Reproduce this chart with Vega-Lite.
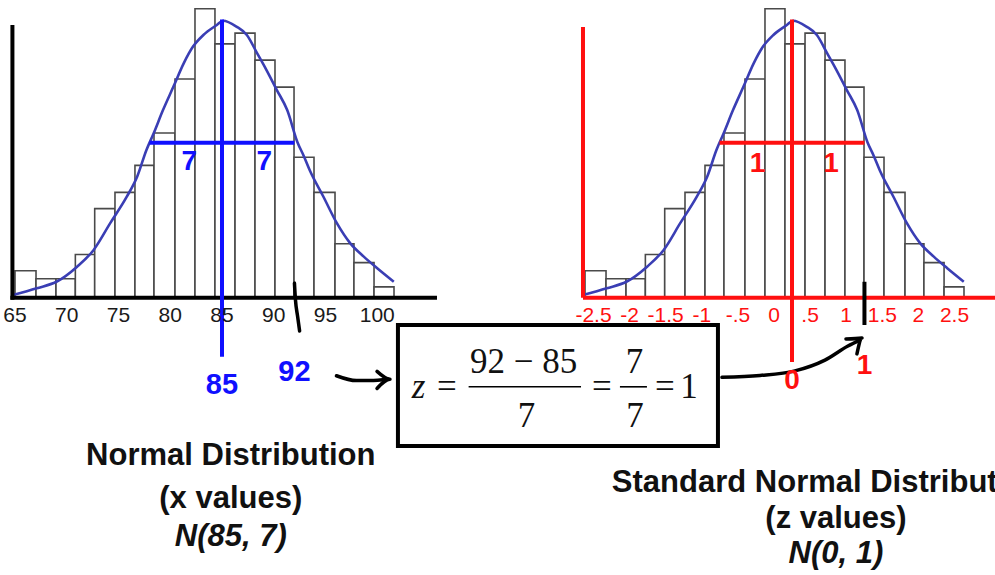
{
  "$schema": "https://vega.github.io/schema/vega-lite/v6.json",
  "width": 995,
  "height": 575,
  "autosize": {"type": "none"},
  "padding": 0,
  "background": "white",
  "config": {"view": {"stroke": null}, "axis": {"disable": true}},
  "datasets": {
    "bins": [
      {"x_lo": 65.00, "x_hi": 67.03, "z_lo": -2.857, "z_hi": -2.567, "count": 10},
      {"x_lo": 67.03, "x_hi": 68.96, "z_lo": -2.567, "z_hi": -2.291, "count": 7},
      {"x_lo": 68.96, "x_hi": 70.83, "z_lo": -2.291, "z_hi": -2.024, "count": 7},
      {"x_lo": 70.83, "x_hi": 72.70, "z_lo": -2.024, "z_hi": -1.757, "count": 16},
      {"x_lo": 72.70, "x_hi": 74.66, "z_lo": -1.757, "z_hi": -1.477, "count": 33},
      {"x_lo": 74.66, "x_hi": 76.59, "z_lo": -1.477, "z_hi": -1.201, "count": 39},
      {"x_lo": 76.59, "x_hi": 78.43, "z_lo": -1.201, "z_hi": -0.939, "count": 49},
      {"x_lo": 78.43, "x_hi": 80.46, "z_lo": -0.939, "z_hi": -0.649, "count": 61},
      {"x_lo": 80.46, "x_hi": 82.39, "z_lo": -0.649, "z_hi": -0.373, "count": 81},
      {"x_lo": 82.39, "x_hi": 84.32, "z_lo": -0.373, "z_hi": -0.097, "count": 107},
      {"x_lo": 84.32, "x_hi": 86.26, "z_lo": -0.097, "z_hi": 0.180, "count": 94},
      {"x_lo": 86.26, "x_hi": 88.19, "z_lo": 0.180, "z_hi": 0.456, "count": 98},
      {"x_lo": 88.19, "x_hi": 90.12, "z_lo": 0.456, "z_hi": 0.731, "count": 88},
      {"x_lo": 90.12, "x_hi": 91.96, "z_lo": 0.731, "z_hi": 0.994, "count": 78},
      {"x_lo": 91.96, "x_hi": 93.89, "z_lo": 0.994, "z_hi": 1.270, "count": 52},
      {"x_lo": 93.89, "x_hi": 95.92, "z_lo": 1.270, "z_hi": 1.560, "count": 39},
      {"x_lo": 95.92, "x_hi": 97.75, "z_lo": 1.560, "z_hi": 1.821, "count": 20},
      {"x_lo": 97.75, "x_hi": 99.69, "z_lo": 1.821, "z_hi": 2.099, "count": 13},
      {"x_lo": 99.69, "x_hi": 101.62, "z_lo": 2.099, "z_hi": 2.374, "count": 4}
    ],
    "curve": [
      {"x": 64.8, "z": -2.886, "y": 1.0},
      {"x": 67.1, "z": -2.557, "y": 3.5},
      {"x": 69.0, "z": -2.286, "y": 5.9},
      {"x": 71.0, "z": -2.000, "y": 11.5},
      {"x": 72.6, "z": -1.771, "y": 17.7},
      {"x": 74.2, "z": -1.543, "y": 27.6},
      {"x": 75.8, "z": -1.314, "y": 37.4},
      {"x": 76.8, "z": -1.171, "y": 44.8},
      {"x": 77.7, "z": -1.043, "y": 54.7},
      {"x": 78.4, "z": -0.943, "y": 60.9},
      {"x": 79.3, "z": -0.814, "y": 69.5},
      {"x": 80.3, "z": -0.671, "y": 78.1},
      {"x": 81.3, "z": -0.529, "y": 86.8},
      {"x": 82.2, "z": -0.400, "y": 93.0},
      {"x": 83.2, "z": -0.257, "y": 97.3},
      {"x": 84.5, "z": -0.071, "y": 101.0},
      {"x": 85.1, "z": 0.014, "y": 102.6},
      {"x": 86.4, "z": 0.200, "y": 100.4},
      {"x": 87.4, "z": 0.343, "y": 97.3},
      {"x": 88.4, "z": 0.486, "y": 90.5},
      {"x": 89.3, "z": 0.614, "y": 84.3},
      {"x": 90.3, "z": 0.757, "y": 76.9},
      {"x": 91.3, "z": 0.900, "y": 69.5},
      {"x": 92.3, "z": 1.043, "y": 57.5},
      {"x": 92.9, "z": 1.129, "y": 52.5},
      {"x": 93.5, "z": 1.214, "y": 47.0},
      {"x": 94.8, "z": 1.400, "y": 37.4},
      {"x": 96.1, "z": 1.586, "y": 27.6},
      {"x": 97.4, "z": 1.771, "y": 20.1},
      {"x": 98.7, "z": 1.957, "y": 15.2},
      {"x": 100.0, "z": 2.143, "y": 10.9},
      {"x": 101.6, "z": 2.371, "y": 5.9}
    ]
  },
  "resolve": {"scale": {"x": "independent"}},
  "layer": [
    {
      "layer": [
        {
          "data": {"name": "bins"},
          "mark": {"type": "rect", "fill": "white", "stroke": "#4a4a4a", "strokeWidth": 1.6},
          "encoding": {
            "x": {"field": "x_lo", "type": "quantitative", "scale": {"domain": [63.55, 159.69], "nice": false, "zero": false}},
            "x2": {"field": "x_hi"},
            "y": {"field": "count", "type": "quantitative", "scale": {"domain": [-102.7, 110.26], "nice": false, "zero": false}},
            "y2": {"datum": 0}
          }
        },
        {
          "data": {"name": "curve"},
          "mark": {"type": "line", "color": "#3a3eb4", "strokeWidth": 2.6, "interpolate": "monotone"},
          "encoding": {
            "x": {"field": "x", "type": "quantitative", "scale": {"domain": [63.55, 159.69], "nice": false, "zero": false}},
            "y": {"field": "y", "type": "quantitative", "scale": {"domain": [-102.7, 110.26], "nice": false, "zero": false}}
          }
        },
        {
          "data": {"values": [
            {"x": 64.75, "x2": 105.58, "y": 0, "y2": 0},
            {"x": 64.75, "x2": 64.75, "y": 0, "y2": 100.3}
          ]},
          "mark": {"type": "rule", "color": "black", "strokeWidth": 4, "strokeCap": "square"},
          "encoding": {
            "x": {"field": "x", "type": "quantitative", "scale": {"domain": [63.55, 159.69], "nice": false, "zero": false}},
            "x2": {"field": "x2"},
            "y": {"field": "y", "type": "quantitative", "scale": {"domain": [-102.7, 110.26], "nice": false, "zero": false}},
            "y2": {"field": "y2"}
          }
        },
        {
          "data": {"values": [
            {"x": 85, "x2": 85, "y": 103, "y2": -21.9},
            {"x": 78, "x2": 92, "y": 57.4, "y2": 57.4}
          ]},
          "mark": {"type": "rule", "color": "#1010ff", "strokeWidth": 4},
          "encoding": {
            "x": {"field": "x", "type": "quantitative", "scale": {"domain": [63.55, 159.69], "nice": false, "zero": false}},
            "x2": {"field": "x2"},
            "y": {"field": "y", "type": "quantitative", "scale": {"domain": [-102.7, 110.26], "nice": false, "zero": false}},
            "y2": {"field": "y2"}
          }
        },
        {
          "data": {"values": [
            {"x": 81.83, "y": 50.4, "t": "7"},
            {"x": 89.08, "y": 50.4, "t": "7"}
          ]},
          "mark": {"type": "text", "color": "#1010ff", "font": "Liberation Sans", "fontSize": 28, "fontWeight": "bold"},
          "encoding": {
            "x": {"field": "x", "type": "quantitative", "scale": {"domain": [63.55, 159.69], "nice": false, "zero": false}},
            "y": {"field": "y", "type": "quantitative", "scale": {"domain": [-102.7, 110.26], "nice": false, "zero": false}},
            "text": {"field": "t"}
          }
        },
        {
          "data": {"values": [
            {"x": 65, "y": -6.7, "t": "65"},
            {"x": 70, "y": -6.7, "t": "70"},
            {"x": 75, "y": -6.7, "t": "75"},
            {"x": 80, "y": -6.7, "t": "80"},
            {"x": 85, "y": -6.7, "t": "85"},
            {"x": 90, "y": -6.7, "t": "90"},
            {"x": 95, "y": -6.7, "t": "95"},
            {"x": 100, "y": -6.7, "t": "100"}
          ]},
          "mark": {"type": "text", "color": "#1a1a1a", "font": "Liberation Sans", "fontSize": 21},
          "encoding": {
            "x": {"field": "x", "type": "quantitative", "scale": {"domain": [63.55, 159.69], "nice": false, "zero": false}},
            "y": {"field": "y", "type": "quantitative", "scale": {"domain": [-102.7, 110.26], "nice": false, "zero": false}},
            "text": {"field": "t"}
          }
        },
        {
          "data": {"values": [
            {"x": 85, "y": -32.3, "t": "85"},
            {"x": 92, "y": -27.7, "t": "92"}
          ]},
          "mark": {"type": "text", "color": "#1010ff", "font": "Liberation Sans", "fontSize": 29, "fontWeight": "bold"},
          "encoding": {
            "x": {"field": "x", "type": "quantitative", "scale": {"domain": [63.55, 159.69], "nice": false, "zero": false}},
            "y": {"field": "y", "type": "quantitative", "scale": {"domain": [-102.7, 110.26], "nice": false, "zero": false}},
            "text": {"field": "t"}
          }
        },
        {
          "data": {"values": [
            {"part": "mark92", "i": 0, "x": 92.0, "y": 5.4},
            {"part": "mark92", "i": 1, "x": 92.1, "y": -0.9},
            {"part": "mark92", "i": 2, "x": 92.3, "y": -6.8},
            {"part": "mark92", "i": 3, "x": 92.5, "y": -12.3},
            {"part": "arrow1", "i": 0, "x": 96.06, "y": -28.9},
            {"part": "arrow1", "i": 1, "x": 97.99, "y": -30.7},
            {"part": "arrow1", "i": 2, "x": 99.30, "y": -30.7},
            {"part": "arrow1", "i": 3, "x": 101.07, "y": -30.2},
            {"part": "head1", "i": 0, "x": 99.98, "y": -27.3},
            {"part": "head1", "i": 1, "x": 101.23, "y": -30.2},
            {"part": "head1", "i": 2, "x": 99.98, "y": -33.6},
            {"part": "arrow2", "i": 0, "x": 133.31, "y": -29.5},
            {"part": "arrow2", "i": 1, "x": 136.98, "y": -28.8},
            {"part": "arrow2", "i": 2, "x": 140.36, "y": -27.1},
            {"part": "arrow2", "i": 3, "x": 143.26, "y": -23.1},
            {"part": "arrow2", "i": 4, "x": 145.48, "y": -17.9},
            {"part": "arrow2", "i": 5, "x": 146.64, "y": -15.7},
            {"part": "head2", "i": 0, "x": 145.29, "y": -15.3},
            {"part": "head2", "i": 1, "x": 146.84, "y": -14.9},
            {"part": "head2", "i": 2, "x": 146.35, "y": -20.8}
          ]},
          "mark": {"type": "line", "color": "black", "strokeWidth": 3.5, "interpolate": "monotone", "strokeCap": "round", "strokeJoin": "round"},
          "encoding": {
            "x": {"field": "x", "type": "quantitative", "scale": {"domain": [63.55, 159.69], "nice": false, "zero": false}},
            "y": {"field": "y", "type": "quantitative", "scale": {"domain": [-102.7, 110.26], "nice": false, "zero": false}},
            "detail": {"field": "part"},
            "order": {"field": "i"}
          }
        },
        {
          "data": {"values": [{"x": 102.0, "x2": 132.92, "y": -10.1, "y2": -54.9}]},
          "mark": {"type": "rect", "fill": "white", "stroke": "black", "strokeWidth": 4},
          "encoding": {
            "x": {"field": "x", "type": "quantitative", "scale": {"domain": [63.55, 159.69], "nice": false, "zero": false}},
            "x2": {"field": "x2"},
            "y": {"field": "y", "type": "quantitative", "scale": {"domain": [-102.7, 110.26], "nice": false, "zero": false}},
            "y2": {"field": "y2"}
          }
        },
        {
          "data": {"values": [
            {"x": 108.83, "x2": 119.69, "y": -33.0, "y2": -33.0},
            {"x": 123.45, "x2": 126.06, "y": -33.0, "y2": -33.0}
          ]},
          "mark": {"type": "rule", "color": "black", "strokeWidth": 1.6},
          "encoding": {
            "x": {"field": "x", "type": "quantitative", "scale": {"domain": [63.55, 159.69], "nice": false, "zero": false}},
            "x2": {"field": "x2"},
            "y": {"field": "y", "type": "quantitative", "scale": {"domain": [-102.7, 110.26], "nice": false, "zero": false}},
            "y2": {"field": "y2"}
          }
        },
        {
          "data": {"values": [
            {"x": 106.74, "y": -37.1, "t": "="},
            {"x": 114.14, "y": -27.9, "t": "92 − 85"},
            {"x": 114.43, "y": -47.8, "t": "7"},
            {"x": 121.71, "y": -37.1, "t": "="},
            {"x": 124.86, "y": -27.9, "t": "7"},
            {"x": 124.90, "y": -47.8, "t": "7"},
            {"x": 127.80, "y": -37.1, "t": "="},
            {"x": 130.12, "y": -37.1, "t": "1"}
          ]},
          "mark": {"type": "text", "color": "#111111", "font": "Liberation Serif", "fontSize": 35, "baseline": "alphabetic"},
          "encoding": {
            "x": {"field": "x", "type": "quantitative", "scale": {"domain": [63.55, 159.69], "nice": false, "zero": false}},
            "y": {"field": "y", "type": "quantitative", "scale": {"domain": [-102.7, 110.26], "nice": false, "zero": false}},
            "text": {"field": "t"}
          }
        },
        {
          "data": {"values": [{"x": 104.0, "y": -37.1, "t": "z"}]},
          "mark": {"type": "text", "color": "#111111", "font": "Liberation Serif", "fontSize": 35, "fontStyle": "italic", "baseline": "alphabetic"},
          "encoding": {
            "x": {"field": "x", "type": "quantitative", "scale": {"domain": [63.55, 159.69], "nice": false, "zero": false}},
            "y": {"field": "y", "type": "quantitative", "scale": {"domain": [-102.7, 110.26], "nice": false, "zero": false}},
            "text": {"field": "t"}
          }
        },
        {
          "data": {"values": [
            {"x": 85.85, "y": -58.6, "t": "Normal Distribution"},
            {"x": 85.85, "y": -74.7, "t": "(x values)"}
          ]},
          "mark": {"type": "text", "color": "#111111", "font": "Liberation Sans", "fontSize": 31, "fontWeight": "bold"},
          "encoding": {
            "x": {"field": "x", "type": "quantitative", "scale": {"domain": [63.55, 159.69], "nice": false, "zero": false}},
            "y": {"field": "y", "type": "quantitative", "scale": {"domain": [-102.7, 110.26], "nice": false, "zero": false}},
            "text": {"field": "t"}
          }
        },
        {
          "data": {"values": [{"x": 85.85, "y": -88.8, "t": "N(85, 7)"}]},
          "mark": {"type": "text", "color": "#111111", "font": "Liberation Sans", "fontSize": 31, "fontWeight": "bold", "fontStyle": "italic"},
          "encoding": {
            "x": {"field": "x", "type": "quantitative", "scale": {"domain": [63.55, 159.69], "nice": false, "zero": false}},
            "y": {"field": "y", "type": "quantitative", "scale": {"domain": [-102.7, 110.26], "nice": false, "zero": false}},
            "text": {"field": "t"}
          }
        }
      ]
    },
    {
      "layer": [
        {
          "data": {"name": "bins"},
          "mark": {"type": "rect", "fill": "white", "stroke": "#4a4a4a", "strokeWidth": 1.6},
          "encoding": {
            "x": {"field": "z_lo", "type": "quantitative", "scale": {"domain": [-10.932, 2.802], "nice": false, "zero": false}},
            "x2": {"field": "z_hi"},
            "y": {"field": "count", "type": "quantitative", "scale": {"domain": [-102.7, 110.26], "nice": false, "zero": false}},
            "y2": {"datum": 0}
          }
        },
        {
          "data": {"name": "curve"},
          "mark": {"type": "line", "color": "#3a3eb4", "strokeWidth": 2.6, "interpolate": "monotone"},
          "encoding": {
            "x": {"field": "z", "type": "quantitative", "scale": {"domain": [-10.932, 2.802], "nice": false, "zero": false}},
            "y": {"field": "y", "type": "quantitative", "scale": {"domain": [-102.7, 110.26], "nice": false, "zero": false}}
          }
        },
        {
          "data": {"values": [
            {"x": -2.885, "x2": 2.85, "y": 0, "y2": 0},
            {"x": -2.885, "x2": -2.885, "y": 0, "y2": 100.3},
            {"x": 0, "x2": 0, "y": 103, "y2": -23.8},
            {"x": -1, "x2": 1, "y": 57.4, "y2": 57.4}
          ]},
          "mark": {"type": "rule", "color": "#ff1010", "strokeWidth": 4},
          "encoding": {
            "x": {"field": "x", "type": "quantitative", "scale": {"domain": [-10.932, 2.802], "nice": false, "zero": false}},
            "x2": {"field": "x2"},
            "y": {"field": "y", "type": "quantitative", "scale": {"domain": [-102.7, 110.26], "nice": false, "zero": false}},
            "y2": {"field": "y2"}
          }
        },
        {
          "data": {"values": [{"x": 1, "x2": 1, "y": 5.9, "y2": -10.1}]},
          "mark": {"type": "rule", "color": "black", "strokeWidth": 4},
          "encoding": {
            "x": {"field": "x", "type": "quantitative", "scale": {"domain": [-10.932, 2.802], "nice": false, "zero": false}},
            "x2": {"field": "x2"},
            "y": {"field": "y", "type": "quantitative", "scale": {"domain": [-102.7, 110.26], "nice": false, "zero": false}},
            "y2": {"field": "y2"}
          }
        },
        {
          "data": {"values": [
            {"x": -0.476, "y": 49.5, "t": "1"},
            {"x": 0.538, "y": 49.5, "t": "1"},
            {"x": 0, "y": -30.9, "t": "0"},
            {"x": 1, "y": -25.3, "t": "1"}
          ]},
          "mark": {"type": "text", "color": "#ff1010", "font": "Liberation Sans", "fontSize": 28, "fontWeight": "bold"},
          "encoding": {
            "x": {"field": "x", "type": "quantitative", "scale": {"domain": [-10.932, 2.802], "nice": false, "zero": false}},
            "y": {"field": "y", "type": "quantitative", "scale": {"domain": [-102.7, 110.26], "nice": false, "zero": false}},
            "text": {"field": "t"}
          }
        },
        {
          "data": {"values": [
            {"x": 0.497, "y": -68.7, "t": "Standard Normal Distribution"},
            {"x": 0.607, "y": -82.1, "t": "(z values)"}
          ]},
          "mark": {"type": "text", "color": "#111111", "font": "Liberation Sans", "fontSize": 31, "fontWeight": "bold"},
          "encoding": {
            "x": {"field": "x", "type": "quantitative", "scale": {"domain": [-10.932, 2.802], "nice": false, "zero": false}},
            "y": {"field": "y", "type": "quantitative", "scale": {"domain": [-102.7, 110.26], "nice": false, "zero": false}},
            "text": {"field": "t"}
          }
        },
        {
          "data": {"values": [{"x": 0.607, "y": -94.9, "t": "N(0, 1)"}]},
          "mark": {"type": "text", "color": "#111111", "font": "Liberation Sans", "fontSize": 31, "fontWeight": "bold", "fontStyle": "italic"},
          "encoding": {
            "x": {"field": "x", "type": "quantitative", "scale": {"domain": [-10.932, 2.802], "nice": false, "zero": false}},
            "y": {"field": "y", "type": "quantitative", "scale": {"domain": [-102.7, 110.26], "nice": false, "zero": false}},
            "text": {"field": "t"}
          }
        }
      ]
    },
    {
      "data": {"values": [
        {"x": -2.5, "y": -6.7, "t": "-2.5"},
        {"x": -2, "y": -6.7, "t": "-2"},
        {"x": -1.5, "y": -6.7, "t": "-1.5"},
        {"x": -1, "y": -6.7, "t": "-1"},
        {"x": -0.5, "y": -6.7, "t": "-.5"},
        {"x": 0, "y": -6.7, "t": "0"},
        {"x": 0.5, "y": -6.7, "t": ".5"},
        {"x": 1, "y": -6.7, "t": "1"},
        {"x": 1.5, "y": -6.7, "t": "1.5"},
        {"x": 2, "y": -6.7, "t": "2"},
        {"x": 2.5, "y": -6.7, "t": "2.5"}
      ]},
      "mark": {"type": "text", "color": "#ff1010", "font": "Liberation Sans", "fontSize": 21},
      "encoding": {
        "x": {"field": "x", "type": "quantitative", "scale": {"domain": [-10.72, 3.061], "nice": false, "zero": false}},
        "y": {"field": "y", "type": "quantitative", "scale": {"domain": [-102.7, 110.26], "nice": false, "zero": false}},
        "text": {"field": "t"}
      }
    }
  ]
}
